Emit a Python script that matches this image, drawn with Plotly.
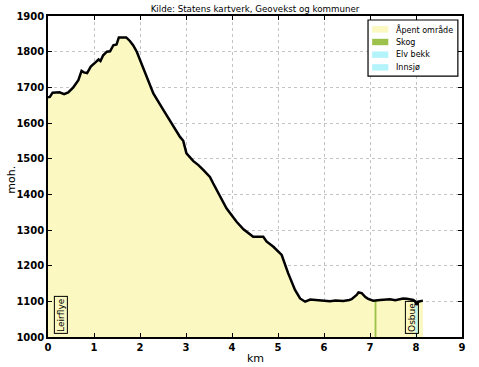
import plotly.graph_objects as go

# Elevation profile (km, m.o.h.)
km = [0.00, 0.04, 0.10, 0.25, 0.35, 0.44, 0.55, 0.66, 0.73, 0.78, 0.85, 0.93, 1.05, 1.10, 1.14,
      1.20, 1.28, 1.35, 1.42, 1.49, 1.54, 1.70, 1.78, 1.85, 1.93, 2.11, 2.29, 2.51, 2.72, 2.87,
      2.94, 2.98, 3.01, 3.16, 3.27, 3.38, 3.52, 3.59, 3.74, 3.88, 4.03, 4.10, 4.25, 4.35, 4.46,
      4.68, 4.75, 4.90, 5.01, 5.08, 5.22, 5.37, 5.48, 5.59, 5.70, 5.85, 5.99, 6.13, 6.25, 6.42,
      6.55, 6.60, 6.71, 6.75, 6.82, 6.90, 6.96, 7.07, 7.22, 7.35, 7.43, 7.55, 7.65, 7.72, 7.80,
      7.94, 7.98, 8.01, 8.05, 8.15]
moh = [1672, 1673, 1685, 1686, 1681, 1686, 1700, 1720, 1746, 1742, 1740, 1758, 1772, 1778, 1774,
       1790, 1800, 1801, 1818, 1820, 1840, 1840, 1830, 1818, 1800, 1740, 1683, 1636, 1590, 1561,
       1550, 1528, 1515, 1493, 1482, 1468, 1449, 1431, 1393, 1361, 1335, 1323, 1302, 1291, 1281,
       1281, 1268, 1253, 1239, 1230, 1179, 1132, 1108, 1099, 1105, 1104, 1102, 1100, 1102, 1101,
       1104, 1106, 1118, 1125, 1123, 1112, 1107, 1102, 1104, 1104, 1106, 1103, 1105, 1108, 1107,
       1104, 1100, 1090, 1099, 1102]

# Land cover segments
skog_km = [7.10, 7.14]
skog_moh = [1102, 1102]
elv_km = [7.99, 8.03]
elv_moh = [1095, 1095]

# Legend entries
legend_names = ["Åpent område", "Skog", "Elv bekk", "Innsjø"]
legend_colors = ["#FBF8C1", "#9DC24C", "#B3F3FA", "#B3F3FA"]

# Place names
place_names = ["Leirflye", "Osbue"]
place_km = [0.28, 7.90]

x_ticks = list(range(0, 10))
y_ticks = list(range(1000, 2000, 100))

fig = go.Figure()
fig.add_trace(go.Scatter(x=km, y=moh, fill="tozeroy", mode="none",
                         fillcolor=legend_colors[0], name=legend_names[0]))
fig.add_trace(go.Scatter(x=skog_km, y=skog_moh, fill="tozeroy", mode="none",
                         fillcolor=legend_colors[1], name=legend_names[1]))
fig.add_trace(go.Scatter(x=elv_km, y=elv_moh, fill="tozeroy", mode="none",
                         fillcolor=legend_colors[2], name=legend_names[2]))
fig.add_trace(go.Scatter(x=km, y=moh, mode="lines", line=dict(color="black", width=2.5),
                         showlegend=False))

for name, xk in zip(place_names, place_km):
    fig.add_annotation(x=xk, y=1000, xref="x", yref="y", text=name, textangle=-90,
                       showarrow=False, yanchor="bottom", yshift=3,
                       font=dict(family="DejaVu Sans", size=9, color="black"),
                       bordercolor="black", borderwidth=1, borderpad=1)

# Manual legend (compact, matplotlib-like)
L, R, T, B = 0.773, 0.990, 0.9875, 0.813
fig.add_shape(type="rect", xref="paper", yref="paper", x0=L, x1=R, y0=B, y1=T,
              line=dict(color="black", width=1.2), fillcolor="white", layer="above")
row_h = 0.0395
for i, (nm, col) in enumerate(zip(legend_names, legend_colors)):
    yc = T - 0.029 - i * row_h
    fig.add_shape(type="rect", xref="paper", yref="paper", x0=L + 0.010, x1=L + 0.049,
                  y0=yc - 0.010, y1=yc + 0.010, line=dict(width=0), fillcolor=col, layer="above")
    fig.add_annotation(x=L + 0.063, y=yc, xref="paper", yref="paper", text=nm,
                       showarrow=False, xanchor="left", yanchor="middle",
                       font=dict(family="DejaVu Sans", size=8, color="black"))

axis_common = dict(showline=True, linecolor="black", linewidth=1.5, mirror="ticks",
                   ticks="inside", ticklen=4, tickcolor="black", zeroline=False,
                   showgrid=True, gridcolor="#c4c4c4", griddash="dot", gridwidth=1,
                   automargin=False,
                   tickfont=dict(family="DejaVu Sans", size=10, color="black", weight="bold"))

fig.add_annotation(x=0.5, y=-0.0, xref="paper", yref="paper", text="km", showarrow=False,
                   yanchor="top", yshift=-13, font=dict(family="DejaVu Sans", size=11, color="black"))
fig.add_annotation(x=0, y=0.49, xref="paper", yref="paper", text="moh.", showarrow=False,
                   textangle=-90, xanchor="center", xshift=-36,
                   font=dict(family="DejaVu Sans", size=11, color="black"))

fig.update_layout(
    width=479, height=367,
    margin=dict(l=48, r=17, t=16, b=30),
    paper_bgcolor="white", plot_bgcolor="white",
    title=dict(text="Kilde: Statens kartverk, Geovekst og kommuner", x=0.5, xanchor="center",
               xref="paper", y=0.975, yanchor="middle", yref="container",
               font=dict(family="DejaVu Sans", size=8.7, color="black")),
    xaxis=dict(range=[0, 9], tickvals=x_ticks, **axis_common),
    yaxis=dict(range=[1000, 1900], tickvals=y_ticks, **axis_common),
    showlegend=False,
)

fig.write_html("out.html", config={"displayModeBar": False},
               post_script="document.body.style.margin='0';")
